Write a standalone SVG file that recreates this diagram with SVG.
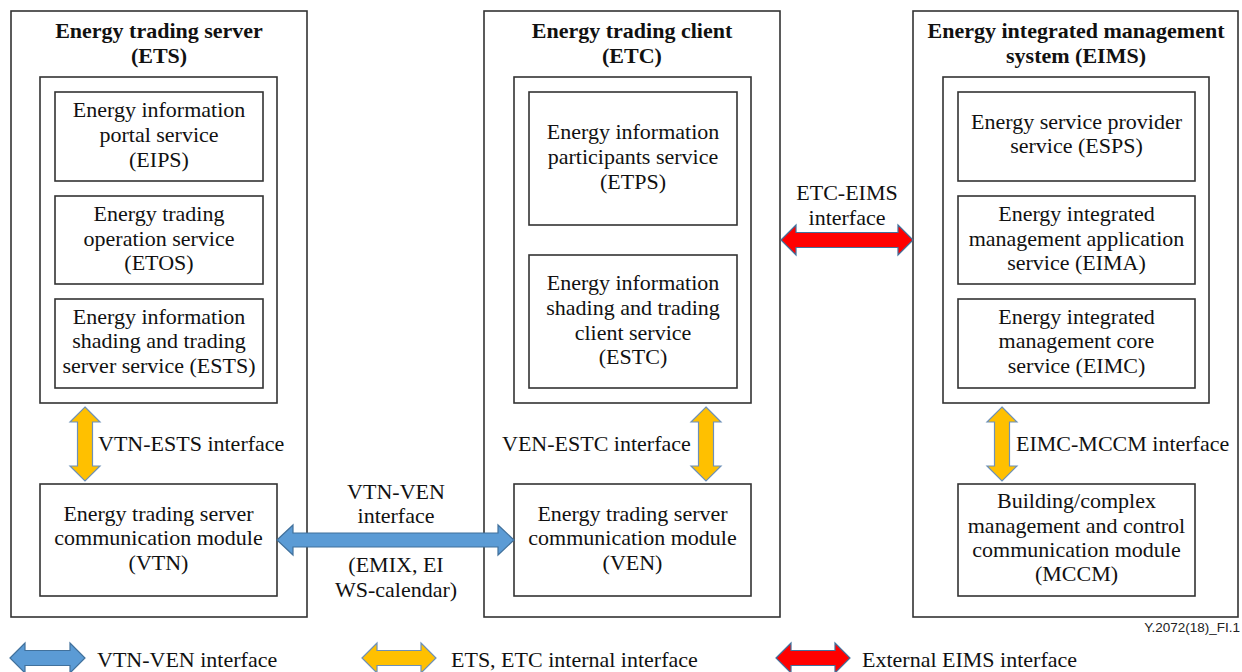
<svg xmlns="http://www.w3.org/2000/svg" width="1242" height="672" viewBox="0 0 1242 672">
<style>
.box{fill:#fff;stroke:#333;stroke-width:1.6}
text{font-family:'Liberation Serif','Times New Roman','DejaVu Serif',serif;font-size:22px;fill:#111}
.t{text-anchor:middle}
.b{font-weight:bold}
.blue{fill:#5B9BD5;stroke:#41719C;stroke-width:1.2}
.yel{fill:#FFC000;stroke:#6D90B8;stroke-width:1.2}
.red{fill:#FF0000;stroke:#41719C;stroke-width:1.2}
text.code{font-family:'Liberation Sans',Arial,sans-serif;font-size:13.5px;fill:#222;text-anchor:end}
</style>
<rect width="1242" height="672" fill="#fff"/>

<g id="ets" font-family="Liberation Serif, serif">
<rect class="box" x="11" y="11" width="296" height="606"/>
<text class="t b" x="159" y="38">Energy trading server</text>
<text class="t b" x="159" y="63">(ETS)</text>
<rect class="box" x="40" y="77" width="237" height="326"/>
</g>
<g id="eips">
<rect class="box" x="55" y="92" width="208" height="89"/>
<text class="t" x="159" y="117">Energy information</text>
<text class="t" x="159" y="142">portal service</text>
<text class="t" x="159" y="167">(EIPS)</text>
</g>
<g id="etos">
<rect class="box" x="55" y="196" width="208" height="88"/>
<text class="t" x="159" y="221">Energy trading</text>
<text class="t" x="159" y="246">operation service</text>
<text class="t" x="159" y="270">(ETOS)</text>
</g>
<g id="ests">
<rect class="box" x="55" y="299" width="208" height="89"/>
<text class="t" x="159" y="324">Energy information</text>
<text class="t" x="159" y="348">shading and trading</text>
<text class="t" x="159" y="373">server service (ESTS)</text>
</g>
<g id="vtn">
<rect class="box" x="40" y="484" width="237" height="112"/>
<text class="t" x="158.5" y="521">Energy trading server</text>
<text class="t" x="158.5" y="545">communication module</text>
<text class="t" x="158.5" y="570">(VTN)</text>
</g>

<g id="etc">
<rect class="box" x="484" y="11" width="296" height="606"/>
<text class="t b" x="632" y="38">Energy trading client</text>
<text class="t b" x="632" y="63">(ETC)</text>
<rect class="box" x="514" y="77" width="237" height="326"/>
</g>
<g id="etps">
<rect class="box" x="529" y="92" width="208" height="133"/>
<text class="t" x="633" y="139">Energy information</text>
<text class="t" x="633" y="164">participants service</text>
<text class="t" x="633" y="189">(ETPS)</text>
</g>
<g id="estc">
<rect class="box" x="529" y="255" width="208" height="133"/>
<text class="t" x="633" y="290">Energy information</text>
<text class="t" x="633" y="315">shading and trading</text>
<text class="t" x="633" y="340">client service</text>
<text class="t" x="633" y="364">(ESTC)</text>
</g>
<g id="ven">
<rect class="box" x="514" y="484" width="237" height="112"/>
<text class="t" x="632.5" y="521">Energy trading server</text>
<text class="t" x="632.5" y="545">communication module</text>
<text class="t" x="632.5" y="570">(VEN)</text>
</g>

<g id="eims">
<rect class="box" x="913" y="11" width="325" height="606"/>
<text class="t b" x="1076" y="38">Energy integrated management</text>
<text class="t b" x="1076" y="63">system (EIMS)</text>
<rect class="box" x="943" y="77" width="266" height="326"/>
</g>
<g id="esps">
<rect class="box" x="958" y="92" width="237" height="89"/>
<text class="t" x="1076.5" y="129">Energy service provider</text>
<text class="t" x="1076.5" y="153">service (ESPS)</text>
</g>
<g id="eima">
<rect class="box" x="958" y="196" width="237" height="88"/>
<text class="t" x="1076.5" y="221">Energy integrated</text>
<text class="t" x="1076.5" y="246">management application</text>
<text class="t" x="1076.5" y="270">service (EIMA)</text>
</g>
<g id="eimc">
<rect class="box" x="958" y="299" width="237" height="89"/>
<text class="t" x="1076.5" y="324">Energy integrated</text>
<text class="t" x="1076.5" y="348">management core</text>
<text class="t" x="1076.5" y="373">service (EIMC)</text>
</g>
<g id="mccm">
<rect class="box" x="958" y="484" width="237" height="112"/>
<text class="t" x="1076.5" y="508">Building/complex</text>
<text class="t" x="1076.5" y="533">management and control</text>
<text class="t" x="1076.5" y="557">communication module</text>
<text class="t" x="1076.5" y="581">(MCCM)</text>
</g>

<g id="connectors">
<polygon class="blue" points="277,540 293,525 293,533 498,533 498,525 514,540 498,555 498,547 293,547 293,555"/>
<polygon class="red" points="781,240 796,225 796,232.5 898,232.5 898,225 913,240 898,255 898,247.5 796,247.5 796,255"/>
<polygon class="yel" points="85,407 100,422 92.5,422 92.5,466 100,466 85,481 70,466 77.5,466 77.5,422 70,422"/>
<polygon class="yel" points="706,407 721,422 713.5,422 713.5,466 721,466 706,481 691,466 698.5,466 698.5,422 691,422"/>
<polygon class="yel" points="1002,407 1017,422 1009.5,422 1009.5,466 1017,466 1002,481 987,466 994.5,466 994.5,422 987,422"/>
<text x="98" y="451">VTN-ESTS interface</text>
<text x="502" y="451">VEN-ESTC interface</text>
<text x="1016" y="451">EIMC-MCCM interface</text>
<text class="t" x="396" y="499">VTN-VEN</text>
<text class="t" x="396" y="523">interface</text>
<text class="t" x="396" y="572">(EMIX, EI</text>
<text class="t" x="396" y="597">WS-calendar)</text>
<text class="t" x="847" y="200">ETC-EIMS</text>
<text class="t" x="847" y="225">interface</text>
</g>

<g id="legend">
<polygon class="blue" points="10,658 25,643 25,650.5 70,650.5 70,643 85,658 70,673 70,665.5 25,665.5 25,673"/>
<text x="97" y="667">VTN-VEN interface</text>
<polygon class="yel" points="362,658 377,643 377,650.5 421,650.5 421,643 436,658 421,673 421,665.5 377,665.5 377,673"/>
<text x="451" y="667">ETS, ETC internal interface</text>
<polygon class="red" points="776,658 791,643 791,650.5 835,650.5 835,643 850,658 835,673 835,665.5 791,665.5 791,673"/>
<text x="862" y="667">External EIMS interface</text>
<text class="code" x="1240" y="632">Y.2072(18)_FI.1</text>
</g>
</svg>
